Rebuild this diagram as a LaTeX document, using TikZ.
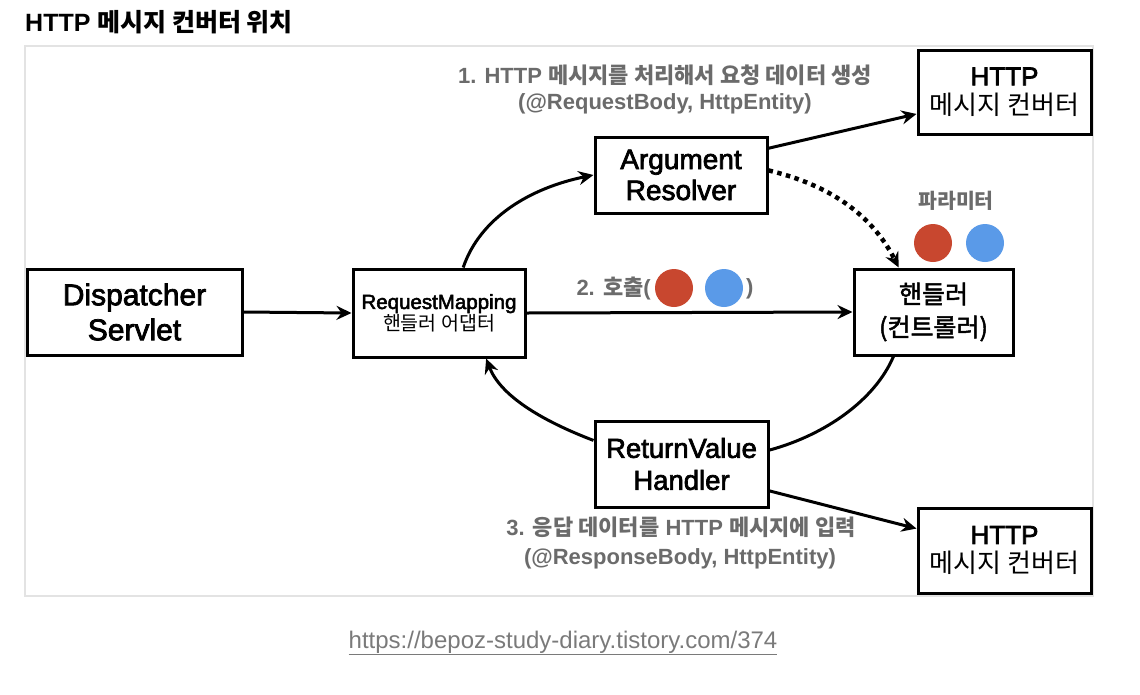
\documentclass[tikz,border=0pt]{standalone}
\usepackage{fontspec}
\setmainfont{Liberation Sans}
\newfontfamily\kr{Noto Sans CJK KR}
\newfontfamily\med{Liberation Sans}[FakeBold=2.5]
\newfontfamily\krmed{Noto Sans CJK KR}[FakeBold=2.0]
\newcommand\K[1]{{\kr #1}}
\newcommand\KM[1]{{\krmed #1}}
\newcommand\fs[2]{\fontsize{#1}{#2}\selectfont}
\usetikzlibrary{arrows.meta,calc}
\definecolor{lbl}{HTML}{6B6B6B}
\definecolor{frame}{HTML}{E3E3E3}
\definecolor{pred}{HTML}{C8472F}
\definecolor{pblue}{HTML}{5A9AE8}
\definecolor{url}{HTML}{7A7A7A}
\tikzset{
  box/.style={draw=black, line width=3pt, inner sep=0pt, align=center, fill=white},
  arr/.style={line width=3pt, -{Stealth[length=15pt,width=14pt,inset=5pt]}},
  plain/.style={line width=3pt},
  dots/.style={line width=4.5pt, dash pattern=on 4.5pt off 4.5pt, -{Stealth[length=15pt,width=14pt,inset=5pt]}},
  lab/.style={text=lbl, font=\bfseries\fs{22}{30}, align=center, inner sep=0pt},
  dot/.style={circle, inner sep=0pt, minimum size=38pt},
}
\begin{document}
\begin{tikzpicture}[x=1pt,y=-1pt]
\useasboundingbox (0,0) rectangle (1140,694);
% title
\node[anchor=west, inner sep=0pt, font=\bfseries\fs{25}{28}] (title) at (25,22) {HTTP \K{\bfseries 메시지 컨버터 위치}};
% frame
\draw[frame, line width=2.5pt] (25,46) rectangle (1093,596);
% boxes
\node[box, minimum width=215pt, minimum height=86pt, font=\med\fs{30}{35}] (ds) at (134.5,312) {Dispatcher\\Servlet};
\node[box, minimum width=172pt, minimum height=88pt] (rm) at (439,313) {\med\fs{20.5}{24}RequestMapping\\\K{\fs{19.5}{24}핸들러 어댑터}};
\node[box, minimum width=172pt, minimum height=76pt, font=\med\fs{28}{31}] (ar) at (681,175) {Argument\\Resolver};
\node[box, minimum width=173pt, minimum height=84pt, font=\fs{26}{29}] (h1) at (1004.5,92) {\med HTTP\\\K{메시지 컨버터}};
\node[box, minimum width=159pt, minimum height=86pt, font=\fs{25}{33}] (hd) at (933.5,312) {\KM{핸들러}\\\KM{(컨트롤러)}};
\node[box, minimum width=173pt, minimum height=86pt, font=\med\fs{27.5}{32}] (rv) at (681.5,464) {ReturnValue\\Handler};
\node[box, minimum width=173pt, minimum height=85pt, font=\fs{26}{29}] (h2) at (1004.5,550.5) {\med HTTP\\\K{메시지 컨버터}};
% labels
\node[lab] (l1a) at (665,75) {1. HTTP \K{\bfseries 메시지를 처리해서 요청 데이터 생성}};
\node[lab] (l1b) at (665,104) {(@RequestBody, HttpEntity)};
\node[lab, font=\bfseries\fs{20.5}{24}] (param) at (956,201) {\K{\bfseries 파라미터}};
\node[dot, fill=pred] (p1) at (933,243) {};
\node[dot, fill=pblue] (p2) at (985,243) {};
\node[lab, anchor=east] (l2) at (651,289) {2. \K{\bfseries 호출}(};
\node[dot, fill=pred] (c1) at (674,288) {};
\node[dot, fill=pblue] (c2) at (724,288) {};
\node[lab, anchor=west] (l2b) at (746,289) {)};
\node[lab] (l3a) at (681,527) {3. \K{\bfseries 응답 데이터를} HTTP \K{\bfseries 메시지에 입력}};
\node[lab] (l3b) at (680,559) {(@ResponseBody, HttpEntity)};
% url
\node[inner sep=0pt, text=url, font=\fs{24}{28}] (url) at (563,643) {\underline{https://bepoz-study-diary.tistory.com/374}};
% connectors
\draw[arr] (ds.east) -- (rm.west);
\draw[arr] (rm.east) -- (hd.west);
\draw[arr] (rm.62) .. controls (480,218) and (530,188) .. (ar.west);
\draw[arr] (ar.17) -- (h1.194);
\draw[dots] (ar.3) .. controls (830,185) and (872,215) .. (hd.128);
\draw[plain] (hd.228) .. controls (875,400) and (825,435) .. (rv.9);
\draw[arr] (rv.165) .. controls (540,420) and (500,395) .. (rm.316);
\draw[arr] (rv.343) -- (h2.166);
\end{tikzpicture}
\end{document}
